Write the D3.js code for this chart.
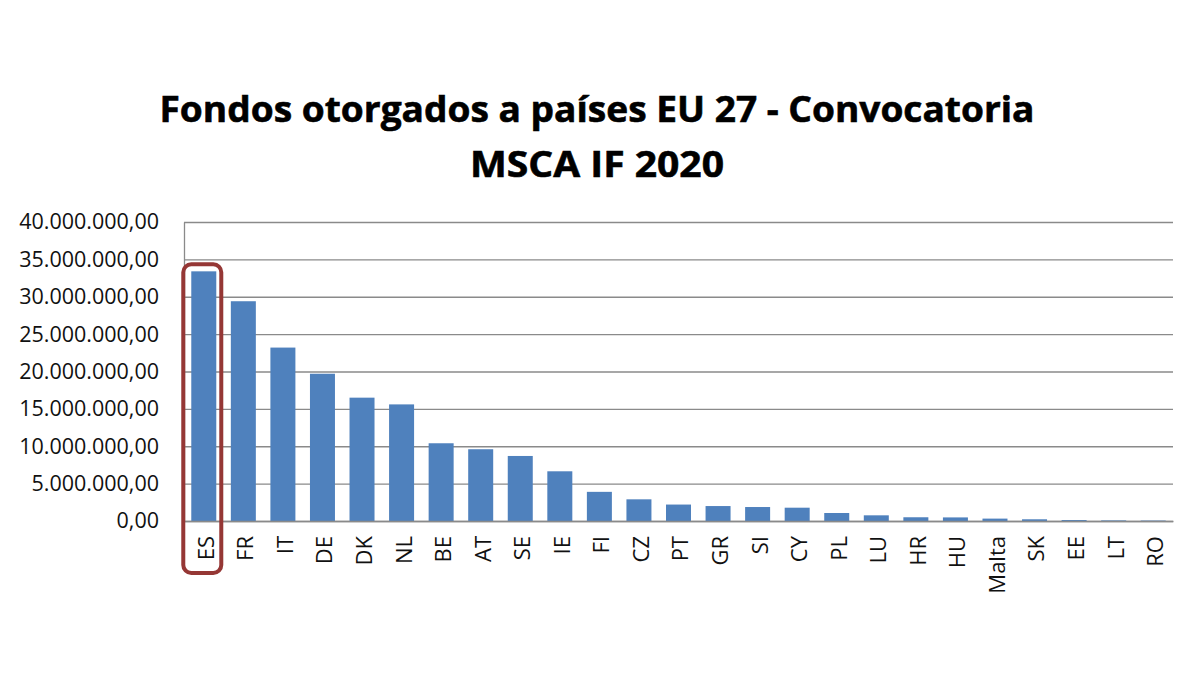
<!DOCTYPE html>
<html>
<head>
<meta charset="utf-8">
<script src="https://cdn.jsdelivr.net/npm/d3@7"></script>
<style>
  body { margin: 0; background: #fff; }
  text { font-family: "Open Sans", "Noto Sans", sans-serif; }
</style>
</head>
<body>
<div id="chart"></div>
<script>
const width = 1200;
const height = 675;

// data (euros)
const countries = ["ES", "FR", "IT", "DE", "DK", "NL", "BE", "AT", "SE", "IE", "FI", "CZ", "PT",
    "GR", "SI", "CY", "PL", "LU", "HR", "HU", "Malta", "SK", "EE", "LT", "RO"];
const funds = [33400000, 29400000, 23200000, 19700000, 16500000, 15600000, 10400000, 9600000,
    8700000, 6650000, 3900000, 2900000, 2200000, 2000000, 1870000, 1780000, 1070000, 760000,
    500000, 480000, 320000, 230000, 130000, 80000, 60000];
const yTicks = [0, 5000000, 10000000, 15000000, 20000000, 25000000, 30000000, 35000000, 40000000];
const titleLines = ["Fondos otorgados a países EU 27 - Convocatoria", "MSCA IF 2020"];
const highlighted = "ES";

const data = countries.map((c, i) => ({ country: c, value: funds[i] }));

const plot = { left: 184, right: 1173, top: 222, bottom: 521 };

const svg = d3.select('#chart')
    .append('svg')
    .attr('width', width)
    .attr('height', height);

svg.append('rect')
    .attr('width', width)
    .attr('height', height)
    .attr('fill', '#ffffff');

// title
const titleWidths = [875, 254];
svg.selectAll('.title')
    .data(titleLines)
    .enter()
    .append('text')
    .attr('class', 'title')
    .attr('x', 597)
    .attr('y', (d, i) => 122 + i * 55)
    .attr('text-anchor', 'middle')
    .attr('font-size', 36)
    .attr('font-weight', 'bold')
    .attr('fill', '#000')
    .attr('stroke', '#000')
    .attr('stroke-width', 0.6)
    .attr('textLength', (d, i) => titleWidths[i])
    .attr('lengthAdjust', 'spacingAndGlyphs')
    .text(d => d);

const x = d3.scaleBand()
    .domain(countries)
    .range([plot.left, plot.right])
    .paddingInner(0.368)
    .paddingOuter(0.184);

const y = d3.scaleLinear()
    .domain([0, 40000000])
    .range([plot.bottom, plot.top]);

const esLocale = d3.formatLocale({ decimal: ",", thousands: ".", grouping: [3], currency: ["", "€"] });
const fmt = esLocale.format(",.2f");

// y axis + gridlines
const yAxis = svg.append('g')
    .attr('transform', `translate(${plot.left},0)`)
    .call(d3.axisLeft(y)
        .tickValues(yTicks)
        .tickSize(-(plot.right - plot.left))
        .tickSizeOuter(0)
        .tickPadding(25)
        .tickFormat(fmt));
yAxis.selectAll('.tick line')
    .attr('stroke', '#8a8a8a')
    .attr('stroke-width', 1.3);
yAxis.select('.domain')
    .attr('stroke', '#8a8a8a')
    .attr('stroke-width', 1.3);
yAxis.selectAll('.tick text')
    .attr('font-size', 21.5)
    .attr('fill', '#111')
    .attr('font-family', '"Open Sans", sans-serif');

// bars
svg.selectAll('.bar')
    .data(data)
    .enter()
    .append('rect')
    .attr('class', 'bar')
    .attr('x', d => x(d.country))
    .attr('y', d => y(d.value))
    .attr('width', x.bandwidth())
    .attr('height', d => y(0) - y(d.value))
    .attr('fill', '#4f81bd');

// x axis
const xAxis = svg.append('g')
    .attr('transform', `translate(0,${plot.bottom})`)
    .call(d3.axisBottom(x).tickSize(0).tickSizeOuter(0));
xAxis.select('.domain')
    .attr('stroke', '#8a8a8a')
    .attr('stroke-width', 1.3);
xAxis.selectAll('.tick text')
    .attr('font-size', 22)
    .attr('fill', '#111')
    .attr('font-family', '"Open Sans", sans-serif')
    .attr('text-anchor', 'end')
    .attr('transform', 'translate(2,15) rotate(-90)')
    .attr('x', 0)
    .attr('y', 0)
    .attr('dy', '0.36em');

// highlight box around Spain
const hv = data.find(d => d.country === highlighted);
svg.append('rect')
    .attr('x', x(hv.country) - 8)
    .attr('y', y(hv.value) - 7)
    .attr('width', x.bandwidth() + 13)
    .attr('height', 573 - (y(hv.value) - 7))
    .attr('rx', 8)
    .attr('fill', 'none')
    .attr('stroke', '#953735')
    .attr('stroke-width', 4);
</script>
</body>
</html>
